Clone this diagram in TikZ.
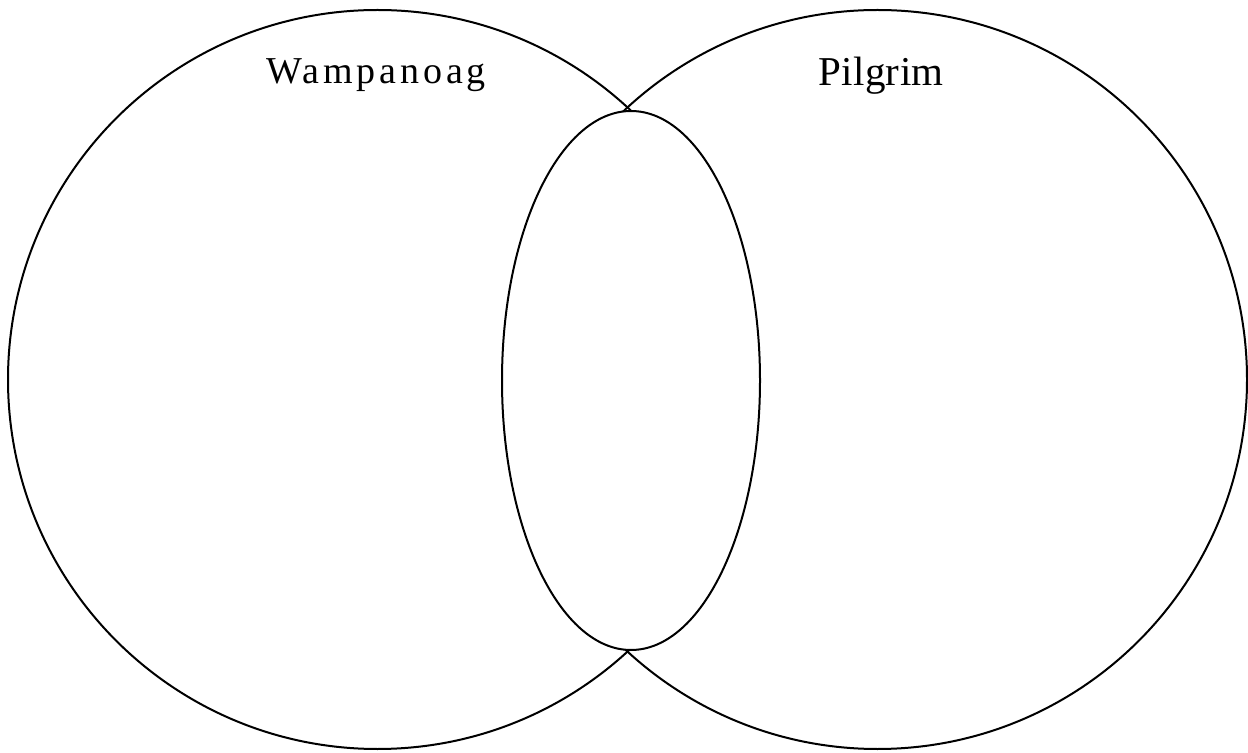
\documentclass[tikz,border=0pt]{standalone}
\usepackage{fontspec}
\setmainfont{Liberation Serif}
\usetikzlibrary{math}

\begin{document}
\begin{tikzpicture}[x=0.5pt,y=-0.5pt,line width=1pt,
  setname/.style={anchor=base,inner sep=0pt}]
\tikzmath{
\R=369.5;
}
\useasboundingbox (0,0) rectangle (1248,753);
%sets
\coordinate (C1) at (377.5,379.5);
\coordinate (C2) at (877.5,379.5);
\coordinate (M) at (631,380.5);

\draw (C1) circle[radius=\R];
\draw (C2) circle[radius=\R];
\filldraw[fill=white] (M) ellipse[x radius=129, y radius=269.5];

%labels
\node[setname,font=\fontsize{19}{22}\selectfont] (wampanoag) at (376,84) {\addfontfeatures{LetterSpace=10}Wampanoag};
\node[setname,font=\fontsize{20.5}{24}\selectfont] (pilgrim) at (881,86) {\addfontfeatures{LetterSpace=1}Pilgrim};
\end{tikzpicture}
\end{document}
